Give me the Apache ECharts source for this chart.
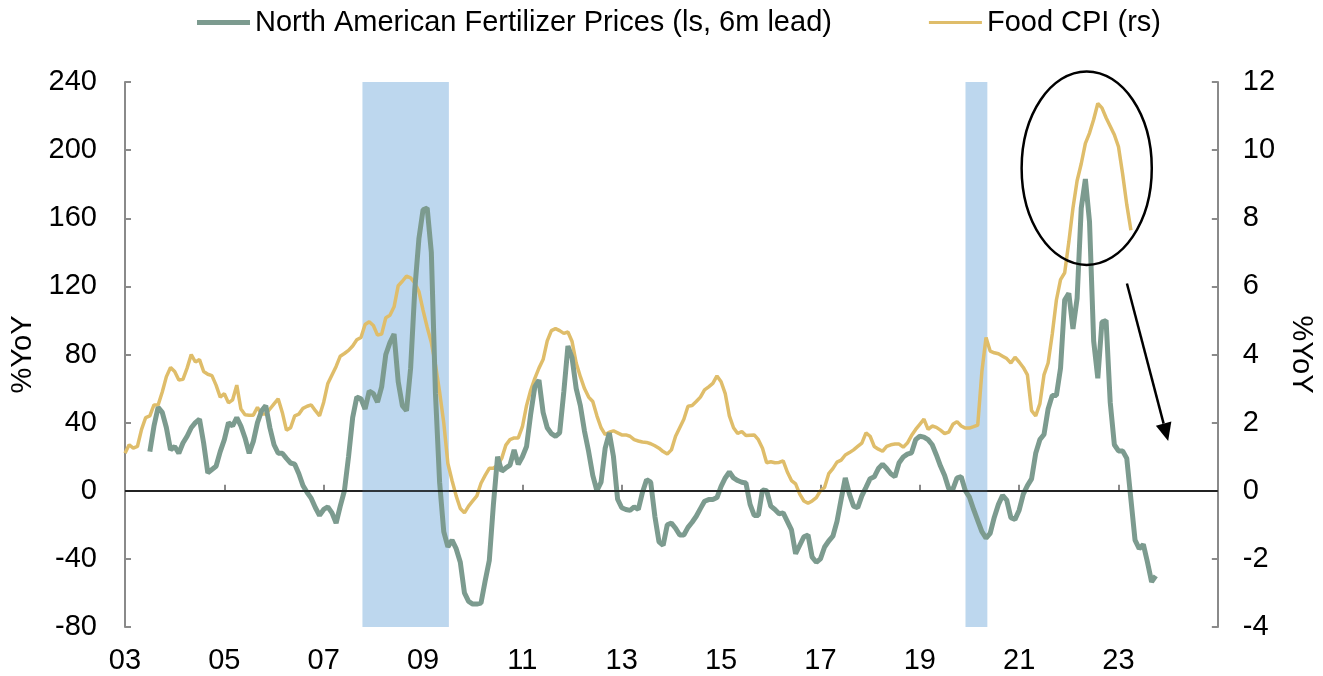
<!DOCTYPE html>
<html>
<head>
<meta charset="utf-8">
<title>Fertilizer prices vs Food CPI</title>
<script src="https://cdn.jsdelivr.net/npm/echarts@6/dist/echarts.min.js"></script>
<style>
  html, body { margin: 0; padding: 0; background: #fff; }
  #chart { width: 1323px; height: 676px; }
</style>
</head>
<body>
<div id="chart"></div>
<script>
// 月度数据，食品CPI从2003年1月开始，化肥价格从2003年7月开始
var foodStart = 2003
var fertStart = 2003 + 6 / 12

// Food CPI (rs), %YoY
var foodCpi = [
  1.1, 1.35, 1.25, 1.3, 1.8, 2.15, 2.2, 2.52, 2.52, 2.9, 3.35, 3.62,
  3.5, 3.25, 3.27, 3.6, 4.0, 3.78, 3.85, 3.5, 3.42, 3.38, 3.1, 2.75,
  2.85, 2.58, 2.67, 3.1, 2.4, 2.23, 2.22, 2.22, 2.45, 2.25, 2.25, 2.4,
  2.55, 2.7, 2.3, 1.78, 1.85, 2.2, 2.25, 2.42, 2.48, 2.52, 2.35, 2.2,
  2.6, 3.15, 3.4, 3.65, 3.95, 4.03, 4.12, 4.25, 4.43, 4.5, 4.88, 4.96,
  4.85, 4.57, 4.6, 5.08, 5.15, 5.4, 6.02, 6.15, 6.3, 6.25, 6.1, 5.85,
  5.3, 4.8, 4.35, 3.7, 2.9, 2.0, 0.8, 0.3, -0.15, -0.52, -0.65, -0.45,
  -0.3, -0.15, 0.22, 0.45, 0.66, 0.66, 0.75, 0.95, 1.34, 1.5, 1.55, 1.55,
  1.88, 2.5, 2.95, 3.3, 3.6, 3.85, 4.4, 4.7, 4.76, 4.7, 4.62, 4.66,
  4.38, 3.75, 3.35, 3.0, 2.75, 2.62, 2.2, 1.85, 1.65, 1.72, 1.76, 1.7,
  1.64, 1.64, 1.6, 1.5, 1.46, 1.43, 1.42, 1.38, 1.32, 1.25, 1.15, 1.08,
  1.2, 1.6, 1.85, 2.1, 2.48, 2.5, 2.62, 2.75, 2.96, 3.05, 3.15, 3.37,
  3.2, 2.85, 2.2, 1.85, 1.68, 1.74, 1.62, 1.63, 1.64, 1.5, 1.25, 0.82,
  0.85, 0.82, 0.83, 0.88, 0.55, 0.3, 0.2, -0.1, -0.3, -0.37, -0.3, -0.2,
  0.0, 0.1, 0.5, 0.65, 0.84, 0.9, 1.05, 1.12, 1.2, 1.3, 1.4, 1.7,
  1.6, 1.3, 1.22, 1.16, 1.3, 1.35, 1.37, 1.37, 1.28, 1.4, 1.62, 1.8,
  1.95, 2.1, 1.8, 1.9, 1.86, 1.78, 1.68, 1.72, 1.95, 2.03, 1.9, 1.84,
  1.84, 1.88, 1.93, 3.5, 4.5, 4.1, 4.05, 4.02, 3.95, 3.88, 3.75, 3.92,
  3.78, 3.62, 3.4, 2.35, 2.2, 2.55, 3.4, 3.75, 4.6, 5.6, 6.2, 6.4,
  7.3, 8.3, 9.1, 9.6, 10.2, 10.5, 10.9, 11.37, 11.24, 10.95, 10.7, 10.45,
  10.1, 9.3, 8.4, 7.65
]

// North American Fertilizer Prices (ls, 6m lead), %YoY
var fertilizer = [
  23, 38, 49, 46, 37, 24,
  26, 22, 28, 32, 37, 40, 42, 28, 10.5, 12.5, 14.4, 23,
  30, 40, 38, 43, 38, 31, 22, 29, 40, 47, 50, 37,
  27, 22, 22, 19, 16.3, 15.6, 10, 3, -1, -4.5, -10, -14.5,
  -11, -9.5, -13, -19, -9, 0, 20, 43, 55, 54, 48, 58.5,
  57, 52, 61, 80, 87, 92, 64, 50, 47, 72, 118, 148,
  165, 166, 140, 57, 5, -24, -33, -29, -34, -42, -60, -65,
  -66.5, -66.5, -66, -53, -41, -8, 20, 11.5, 13.4, 15, 24, 15.5,
  20, 26, 45, 61, 65, 46, 37, 33.5, 32, 34, 58, 85,
  78, 60, 50, 35, 23, 9, 0, 5, 25, 34, 20, -5,
  -10, -11, -11.5, -9.5, -11, -1, 6.5, 5, -15, -30, -32, -20,
  -19, -22, -26, -26, -21.5, -18.5, -15, -10.5, -6.2, -5.2, -5.2, -4,
  2.6, 7.5, 11, 7.5, 6, 5, 4.6, -8, -14.5, -14.5, 0.5, 0,
  -9, -11, -13.5, -13, -18, -23, -37, -32, -27, -26, -39, -42,
  -40, -33, -29.5, -26.7, -18, -5, 7.5, -2, -9, -10, -3, 2,
  7.1, 8.2, 13, 15.5, 13, 10, 8.2, 16.5, 19.8, 21.5, 22.3, 30,
  32, 31.5, 30, 27, 21, 14.5, 9, 1.2, 1, 7.6, 8.2, 0,
  -3.8, -11, -17.5, -24, -27.8, -25, -15.5, -8, -2.7, -5.5, -15.8, -16.8,
  -11.4, -2, 3, 7, 22, 30, 33, 48, 56, 56, 72, 112,
  116, 95, 113, 166, 183, 158, 88, 66, 99, 100, 52, 27,
  23.4, 23.4, 19, -5, -29, -34, -31.5, -42, -53.5, -50
]

// 衰退期阴影（年份）
var recessions = [[2007.78, 2009.52], [2019.92, 2020.36]]

// x轴范围
var xMin = 2003
var xMax = 2025

// 注释：椭圆和箭头（数据坐标，左轴）
var ellipseCenter = [2022.36, 189.4]
var ellipseRadius = [1.31, 56.8]
var arrowFrom = [2023.17, 121.7]
var arrowTo = [2024.0, 29.2]

var green = '#7c9b8f'
var gold = '#dfbd6a'
var fontFamily = "'Liberation Sans', Arial, sans-serif"

function toPairs(start, arr) {
  return arr.map(function (v, i) {
    return [start + i / 12, v]
  })
}

var chart = echarts.init(document.getElementById('chart'))

var axisLineStyle = { color: '#8a8a8a', width: 2 }
var labelStyle = { color: '#000', fontSize: 29, fontFamily: fontFamily }

var option = {
  animation: false,
  textStyle: { fontFamily: fontFamily },
  grid: { left: 120, right: 105, top: 82, bottom: 49 },
  legend: {
    left: 197,
    top: 8,
    padding: 0,
    itemWidth: 53,
    itemHeight: 6,
    itemGap: 97,
    textStyle: { color: '#000', fontSize: 29, fontFamily: fontFamily },
    data: [
      { name: 'North American Fertilizer Prices (ls, 6m lead)', icon: 'path://M0,0H53V5H0Z' },
      { name: 'Food CPI (rs)', icon: 'path://M0,0H50V3H0Z' }
    ]
  },
  xAxis: {
    type: 'value',
    min: xMin,
    max: xMax,
    interval: 2,
    splitLine: { show: false },
    axisLine: { lineStyle: axisLineStyle },
    axisTick: { inside: true, length: 6, lineStyle: axisLineStyle },
    axisLabel: Object.assign({
      margin: 19,
      formatter: function (v) {
        if (v >= xMax) return ''
        var s = String(Math.round(v) % 100)
        return s.length < 2 ? '0' + s : s
      }
    }, labelStyle)
  },
  yAxis: [
    {
      type: 'value',
      min: -80,
      max: 240,
      interval: 40,
      name: '%YoY',
      nameLocation: 'middle',
      nameRotate: 90,
      nameGap: 88,
      nameTextStyle: labelStyle,
      splitLine: { show: false },
      axisLine: { show: true, lineStyle: axisLineStyle },
      axisTick: { show: true, inside: true, length: 6, lineStyle: axisLineStyle },
      axisLabel: Object.assign({ margin: 28 }, labelStyle)
    },
    {
      type: 'value',
      min: -4,
      max: 12,
      interval: 2,
      position: 'right',
      name: '%YoY',
      nameLocation: 'middle',
      nameRotate: -90,
      nameGap: 67,
      nameTextStyle: labelStyle,
      splitLine: { show: false },
      axisLine: { show: true, lineStyle: axisLineStyle },
      axisTick: { show: true, inside: true, length: 6, lineStyle: axisLineStyle },
      axisLabel: Object.assign({ margin: 25 }, labelStyle)
    }
  ],
  series: [
    {
      name: 'recession',
      type: 'line',
      z: 1,
      data: [],
      markArea: {
        silent: true,
        itemStyle: { color: '#bdd7ee' },
        data: recessions.map(function (r) {
          return [{ xAxis: r[0] }, { xAxis: r[1] }]
        })
      }
    },
    {
      name: 'Food CPI (rs)',
      type: 'line',
      yAxisIndex: 1,
      z: 3,
      symbol: 'none',
      color: gold,
      lineStyle: { color: gold, width: 3.5 },
      data: toPairs(foodStart, foodCpi)
    },
    {
      name: 'North American Fertilizer Prices (ls, 6m lead)',
      type: 'line',
      yAxisIndex: 0,
      z: 4,
      symbol: 'none',
      color: green,
      lineStyle: { color: green, width: 5 },
      data: toPairs(fertStart, fertilizer),
      markLine: {
        silent: true,
        symbol: ['none', 'none'],
        label: { show: false },
        lineStyle: { color: '#000', width: 1.5, type: 'solid' },
        data: [{ yAxis: 0 }]
      }
    }
  ]
}

chart.setOption(option)

// 根据坐标换算画椭圆和箭头
function px(p) {
  return chart.convertToPixel({ xAxisIndex: 0, yAxisIndex: 0 }, p)
}

var c = px(ellipseCenter)
var edge = px([ellipseCenter[0] + ellipseRadius[0], ellipseCenter[1] + ellipseRadius[1]])
var rx = Math.abs(edge[0] - c[0])
var ry = Math.abs(edge[1] - c[1])

var s = px(arrowFrom)
var t = px(arrowTo)
var dx = t[0] - s[0], dy = t[1] - s[1]
var len = Math.sqrt(dx * dx + dy * dy)
dx /= len
dy /= len
var headLen = 18, headW = 8
var bx = t[0] - dx * headLen, by = t[1] - dy * headLen

chart.setOption({
  graphic: [
    {
      type: 'ellipse',
      z: 10,
      shape: { cx: c[0], cy: c[1], rx: rx, ry: ry },
      style: { fill: 'none', stroke: '#000', lineWidth: 2.5 }
    },
    {
      type: 'line',
      z: 10,
      shape: { x1: s[0], y1: s[1], x2: bx, y2: by },
      style: { stroke: '#000', lineWidth: 2.5 }
    },
    {
      type: 'polygon',
      z: 10,
      shape: {
        points: [
          [t[0], t[1]],
          [bx - dy * headW, by + dx * headW],
          [bx + dy * headW, by - dx * headW]
        ]
      },
      style: { fill: '#000' }
    }
  ]
})
</script>
</body>
</html>
